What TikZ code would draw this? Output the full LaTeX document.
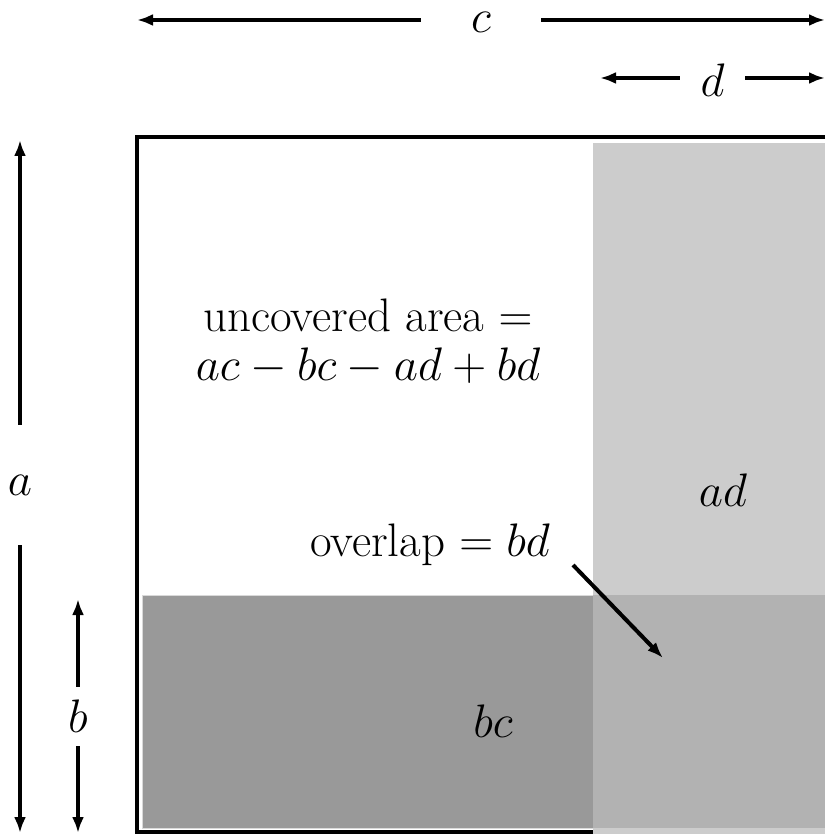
\RequirePackage{fix-cm}
\documentclass[tikz,border=0pt]{standalone}
\usetikzlibrary{arrows.meta}
\DeclareMathSizes{47}{47}{33}{24}
\begin{document}
\begin{tikzpicture}[x=1pt,y=-1pt,
  arr/.style={line width=4pt,-{Latex[length=16pt,width=12pt]}},
  lbl/.style={inner sep=0pt,font=\fontsize{47}{49}\selectfont},
  frame/.style={line width=4pt}]
\useasboundingbox (0,0) rectangle (825,834);
% frame
\draw[frame] (825,137) -- (137,137) -- (137,832) -- (825,832);
% bc rectangle
\fill[black!40] (142,595) rectangle (593,828);
\draw[black!15, line width=1pt] (142,595) rectangle (593,828);
% ad rectangle
\fill[black!20] (593,143) rectangle (825,834);
% overlap
\fill[black!30] (593,595) rectangle (825,828);
% dimension labels
\node[lbl,minimum width=120pt] (c) at (481,22) {$c$};
\coordinate (cl) at (137,20); \coordinate (cr) at (825,20);
\draw[arr] (c.west |- cl) -- (cl);
\draw[arr] (c.east |- cr) -- (cr);
\node[lbl,minimum width=65pt] (d) at (712.5,80) {$d$};
\coordinate (dl) at (600,78); \coordinate (dr) at (825,78);
\draw[arr] (d.west |- dl) -- (dl);
\draw[arr] (d.east |- dr) -- (dr);
\node[lbl,minimum height=120pt] (a) at (20,485) {$a$};
\coordinate (at) at (20,140); \coordinate (ab) at (20,833);
\draw[arr] (a.north) -- (at);
\draw[arr] (a.south) -- (ab);
\node[lbl,minimum height=59pt] (b) at (78,716.5) {$b$};
\coordinate (bt) at (78,599); \coordinate (bb) at (78,833);
\draw[arr] (b.north) -- (bt);
\draw[arr] (b.south) -- (bb);
% texts
\node[lbl,align=center] (unc) at (368,342) {uncovered area $=$\\ $ac-bc-ad+bd$};
\node[lbl] (adl) at (723,490) {$ad$};
\node[lbl] (bcl) at (493,721) {$bc$};
\node[lbl] (ovl) at (430,545) {overlap $=bd$};
\coordinate (ovt) at (663,658);
\draw[arr] (573,565) -- (ovt);
\end{tikzpicture}
\end{document}
